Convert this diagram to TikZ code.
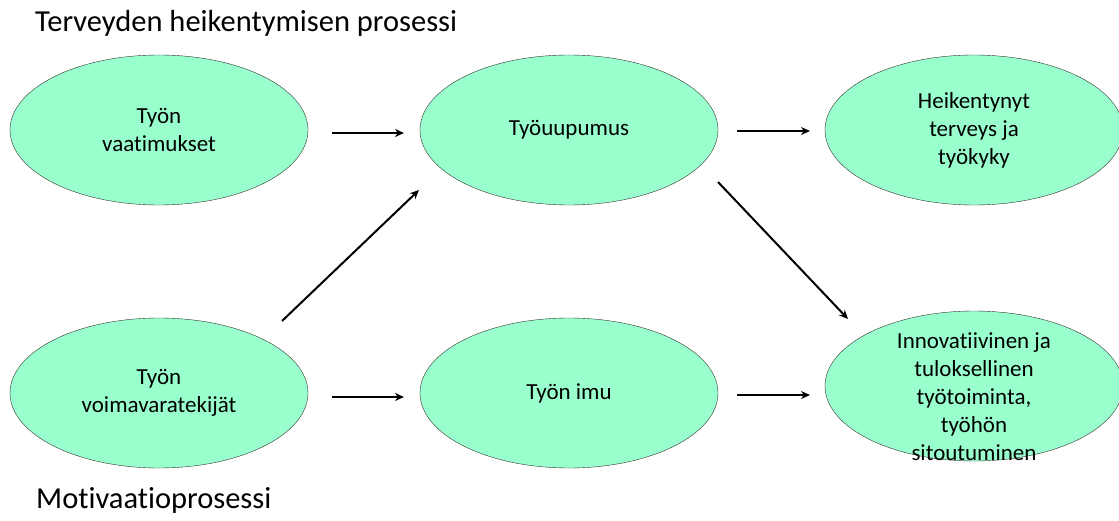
\documentclass[tikz,border=0pt]{standalone}
\usepackage{fontspec}
\setmainfont{Carlito}[Ligatures=NoCommon]
\usetikzlibrary{shapes.geometric, arrows.meta, positioning, calc}
\definecolor{mint}{RGB}{153,255,204}

\begin{document}
\begin{tikzpicture}[x=1pt, y=-1pt, node distance=410pt, >=Stealth]
    % Styles
    \tikzstyle{proc} = [ellipse, draw=black!80, thin, fill=mint, minimum width=298pt, minimum height=150pt, inner sep=0pt, align=center, font=\fontsize{23}{28}\selectfont]
    \tikzstyle{arrow} = [draw, -{Stealth[length=9pt, width=8pt]}, line width=2pt]
    \tikzstyle{heading} = [anchor=base west, inner sep=0pt, font=\fontsize{30.5}{36}\selectfont]

    \useasboundingbox (0,0) rectangle (1119,521);

    % Nodes
    \node[proc] (tv) at (159,130) {Työn\\vaatimukset};
    \node[proc, right of=tv] (tu) {Työuupumus};
    \node[proc, right of=tu, node distance=405pt] (hk) {Heikentynyt\\terveys ja\\työkyky};
    \node[proc, below of=tv, node distance=263pt] (tvk) {Työn\\voimavaratekijät};
    \node[proc, right of=tvk] (ti) {Työn imu};
    \node[proc, below of=hk, node distance=256pt] (ino) {};
    \node[align=center, inner sep=0pt, font=\fontsize{23}{28}\selectfont] (inotext) at ($(ino)+(0,11)$) {Innovatiivinen ja\\tuloksellinen\\työtoiminta,\\työhön\\sitoutuminen};

    % Headings
    \node[heading] (h1) at (35,32) {Terveyden heikentymisen prosessi};
    \node[heading] (h2) at (36,508) {Motivaatioprosessi};

    % Edges
    \draw[arrow] ($(tv)+(173,3)$) -- ($(tu)+(-165,3)$);
    \draw[arrow] ($(tu)+(168,1)$) -- ($(hk)+(-164,1)$);
    \draw[arrow] ($(tvk)+(173,4)$) -- ($(ti)+(-165,4)$);
    \draw[arrow] ($(ti)+(168,2)$) -- ($(ino)+(-164,9)$);
    \draw[arrow] ($(tvk)+(123,-72)$) -- ($(tu)+(-150,60)$);
    \draw[arrow] ($(tu)+(149,52)$) -- ($(ino)+(-126,-67)$);

\end{tikzpicture}
\end{document}
